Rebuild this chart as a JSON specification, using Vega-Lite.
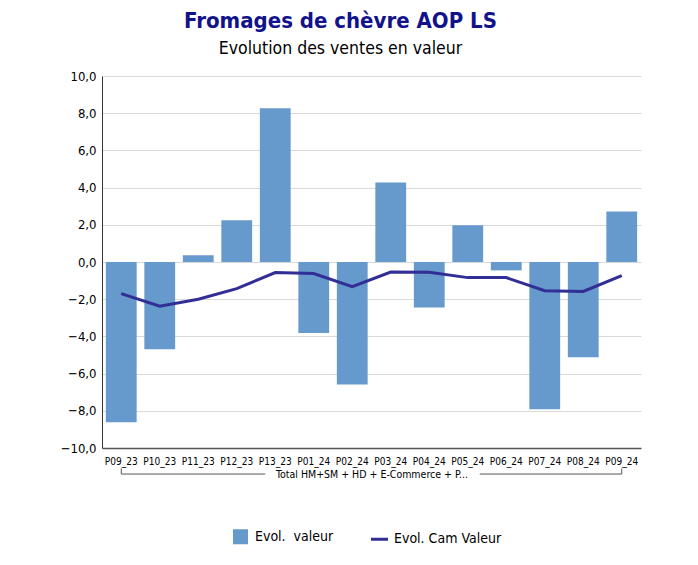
{
  "$schema": "https://vega.github.io/schema/vega-lite/v6.json",
  "width": 539,
  "height": 372,
  "autosize": {"type": "none"},
  "padding": {"left": 102, "top": 76, "right": 57, "bottom": 117},
  "background": "white",
  "config": {
    "font": "DejaVu Sans Condensed",
    "view": {"stroke": null},
    "axis": {"labelFont": "DejaVu Sans Condensed", "titleFont": "DejaVu Sans Condensed", "labelColor": "#000000", "titleColor": "#000000", "labelOverlap": false},
    "axisY": {"labelOverlap": false, "labelFlush": false, "tickCount": 11, "labelFontSize": 13, "labelPadding": 6, "ticks": false, "domainColor": "#333333", "gridColor": "#D9D9D9"}
  },
  "title": {
    "text": "Fromages de chèvre AOP LS",
    "subtitle": "Evolution des ventes en valeur",
    "anchor": "middle",
    "dx": -31,
    "offset": 12,
    "font": "DejaVu Sans Condensed",
    "fontSize": 22,
    "fontWeight": "bold",
    "color": "#12128A",
    "subtitleFont": "DejaVu Sans Condensed",
    "subtitleFontSize": 17.5,
    "subtitleColor": "#000000",
    "subtitlePadding": 7
  },
  "datasets": {
    "ventes": [
      {"period": "P09_23", "valeur": -8.62, "cam": -1.70},
      {"period": "P10_23", "valeur": -4.69, "cam": -2.38},
      {"period": "P11_23", "valeur": 0.36, "cam": -2.00},
      {"period": "P12_23", "valeur": 2.24, "cam": -1.43},
      {"period": "P13_23", "valeur": 8.26, "cam": -0.57},
      {"period": "P01_24", "valeur": -3.82, "cam": -0.62},
      {"period": "P02_24", "valeur": -6.58, "cam": -1.32},
      {"period": "P03_24", "valeur": 4.28, "cam": -0.54},
      {"period": "P04_24", "valeur": -2.44, "cam": -0.55},
      {"period": "P05_24", "valeur": 1.97, "cam": -0.84},
      {"period": "P06_24", "valeur": -0.45, "cam": -0.84},
      {"period": "P07_24", "valeur": -7.92, "cam": -1.54},
      {"period": "P08_24", "valeur": -5.12, "cam": -1.58},
      {"period": "P09_24", "valeur": 2.72, "cam": -0.73}
    ],
    "bracketLeft": [
      {"start": "P09_23", "end": "P13_23"}
    ],
    "bracketRight": [
      {"start": "P05_24", "end": "P09_24"}
    ],
    "ends": [
      {"period": "P09_23"},
      {"period": "P09_24"}
    ]
  },
  "encoding": {
    "x": {
      "field": "period",
      "type": "nominal",
      "sort": null,
      "scale": {"domain": ["P09_23","P10_23","P11_23","P12_23","P13_23","P01_24","P02_24","P03_24","P04_24","P05_24","P06_24","P07_24","P08_24","P09_24"], "paddingInner": 0.2, "paddingOuter": 0.1}
    }
  },
  "layer": [
    {
      "data": {"name": "ventes"},
      "mark": {"type": "bar", "color": "#6699CC"},
      "encoding": {
        "x": {
          "field": "period",
          "type": "nominal",
          "sort": null,
          "axis": {
            "labelAngle": 0,
            "labelFontSize": 10,
            "labelPadding": 8,
            "labelOverlap": false,
            "ticks": false,
            "domainColor": "#555555",
            "domainWidth": 1.5,
            "grid": false,
            "title": "Total HM+SM + HD + E-Commerce + P...",
            "titleFontSize": 10.5,
            "titleFontWeight": "normal",
            "titlePadding": 3
          }
        },
        "y": {
          "field": "valeur",
          "type": "quantitative",
          "scale": {"domain": [-10, 10], "nice": false, "zero": false},
          "axis": {
            "title": null,
            "values": [-10, -8, -6, -4, -2, 0, 2, 4, 6, 8, 10],
            "tickCount": 11,
            "labelExpr": "replace(format(datum.value, '.1f'), '.', ',')",
            "labelFontSize": 13,
            "labelPadding": 6,
            "labelOverlap": false,
            "labelFlush": false,
            "ticks": false,
            "domainColor": "#333333",
            "domainWidth": 1,
            "gridColor": "#D9D9D9",
            "gridWidth": 1
          }
        },
        "color": {
          "datum": "Evol.\u00a0 valeur",
          "type": "nominal",
          "scale": {"domain": ["Evol.\u00a0 valeur", "Evol. Cam Valeur"], "range": ["#6699CC", "#312E95"]},
          "legend": {
            "title": null,
            "orient": "none",
            "direction": "horizontal",
            "legendX": 131,
            "legendY": 453,
            "labelFontSize": 14,
            "labelFont": "DejaVu Sans Condensed",
            "labelColor": "#000000",
            "columnPadding": 31,
            "labelOffset": 7,
            "encode": {
              "symbols": {
                "update": {
                  "shape": {"signal": "datum.value === 'Evol. Cam Valeur' ? 'stroke' : 'square'"},
                  "fill": {"signal": "datum.value === 'Evol. Cam Valeur' ? 'transparent' : '#6699CC'"},
                  "stroke": {"signal": "datum.value === 'Evol. Cam Valeur' ? '#312E95' : 'transparent'"},
                  "strokeWidth": {"value": 3},
                  "size": {"signal": "datum.value === 'Evol. Cam Valeur' ? 289 : 144"}
                }
              }
            }
          }
        }
      }
    },
    {
      "data": {"name": "ventes"},
      "mark": {"type": "line", "strokeWidth": 3},
      "encoding": {
        "x": {"field": "period", "type": "nominal", "sort": null},
        "y": {
          "field": "cam",
          "type": "quantitative",
          "axis": {
            "title": null,
            "values": [-10, -8, -6, -4, -2, 0, 2, 4, 6, 8, 10],
            "tickCount": 11,
            "labelExpr": "replace(format(datum.value, '.1f'), '.', ',')",
            "labelOverlap": false,
            "labelFlush": false
          }
        },
        "color": {"datum": "Evol. Cam Valeur", "type": "nominal"}
      }
    },
    {
      "data": {"name": "bracketLeft"},
      "mark": {"type": "rule", "color": "#555555", "strokeWidth": 1, "x2Offset": -10},
      "encoding": {
        "x": {"field": "start", "type": "nominal", "sort": null, "bandPosition": 0.5},
        "x2": {"field": "end", "bandPosition": 0.5},
        "y": {"datum": -11.4}
      }
    },
    {
      "data": {"name": "bracketRight"},
      "mark": {"type": "rule", "color": "#555555", "strokeWidth": 1, "xOffset": 12},
      "encoding": {
        "x": {"field": "start", "type": "nominal", "sort": null, "bandPosition": 0.5},
        "x2": {"field": "end", "bandPosition": 0.5},
        "y": {"datum": -11.4}
      }
    },
    {
      "data": {"name": "ends"},
      "mark": {"type": "rule", "color": "#555555", "strokeWidth": 1},
      "encoding": {
        "x": {"field": "period", "type": "nominal", "sort": null},
        "y": {"datum": -11.1},
        "y2": {"datum": -11.4}
      }
    }
  ]
}
